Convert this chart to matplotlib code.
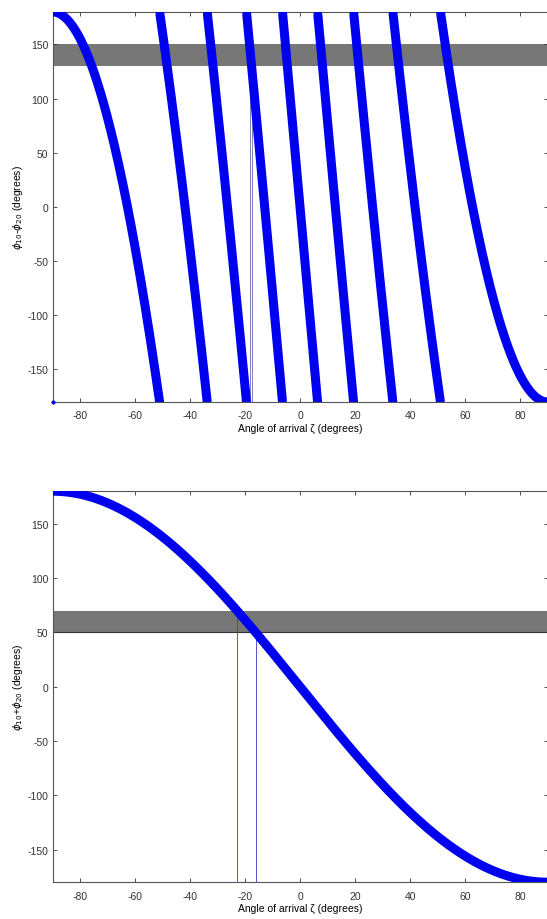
import numpy as np
import matplotlib
matplotlib.use("Agg")
import matplotlib.pyplot as plt

# --- PARAMETERS ---
phase_span_diff = 1620.0   # phi10 - phi20 = -1620 sin(zeta), wrapped to [-180, 180)
phase_span_sum  = 180.0    # phi10 + phi20 = -180 sin(zeta)
band_diff = (130, 150)     # measured phase-difference window
band_sum  = (50, 70)       # measured phase-sum window
xticks = [-80, -60, -40, -20, 0, 20, 40, 60, 80]
yticks = [-150, -100, -50, 0, 50, 100, 150]

zeta = np.linspace(-90, 90, 3001)
s = np.sin(np.radians(zeta))
diff = np.mod(-phase_span_diff * s + 180, 360) - 180
summ = -phase_span_sum * s

# crossings of the measured windows
# difference: branch where -1620 sin(zeta) lies in [180, 540)
cross_diff = [np.degrees(np.arcsin(-(v + 360) / phase_span_diff)) for v in band_diff]
cross_sum = [np.degrees(np.arcsin(-v / phase_span_sum)) for v in band_sum]

plt.rcParams['font.family'] = ['Liberation Sans', 'DejaVu Sans']
plt.rcParams['axes.unicode_minus'] = False
plt.rcParams['font.size'] = 7.5

fig = plt.figure(figsize=(5.47, 9.2), dpi=100)
ax1 = fig.add_axes([0.096, 0.562, 0.905, 0.424])
ax2 = fig.add_axes([0.096, 0.040, 0.905, 0.425])

blue = '#0000f0'
band_col = '#777777'


def style(ax):
    ax.set_xlim(-90, 90)
    ax.set_ylim(-180, 180)
    ax.set_xticks(xticks)
    ax.set_yticks(yticks)
    ax.tick_params(direction='in', length=3, width=0.6, colors='#333333',
                   top=True, right=True, labelsize=7.5)
    ax.tick_params(axis='x', pad=6)
    ax.tick_params(axis='y', pad=3)
    for sp in ax.spines.values():
        sp.set_color('#555555')
        sp.set_linewidth(0.8)
    ax.set_xlabel('Angle of arrival ζ (degrees)', fontsize=7.5, labelpad=2)


# --- PLOT: phase difference ---
ax1.axhspan(*band_diff, color=band_col, lw=0, zorder=1)
for xc, yc in zip(cross_diff, band_diff):
    ax1.plot([xc, xc], [-180, yc], color='#6a6ab0', lw=0.6, zorder=2)
# break the line at wraps
d = diff.copy()
jumps = np.where(np.abs(np.diff(d)) > 180)[0]
d[jumps + 1] = np.nan
ax1.plot(zeta, d, color=blue, lw=6.5, solid_capstyle='round', zorder=3)
ax1.plot([-90], [-180], 'o', color=blue, ms=2, zorder=3, clip_on=False)
ax1.set_ylabel(r'$\phi_{10}$-$\phi_{20}$ (degrees)', fontsize=7.5, labelpad=2)
style(ax1)

# --- PLOT: phase sum ---
ax2.axhspan(*band_sum, color=band_col, lw=0, zorder=1)
ax2.axhline(band_sum[0], color='#333333', lw=0.8, zorder=1)
for xc, yc in zip(cross_sum, band_sum):
    ax2.plot([xc, xc], [-180, yc], color='#3a3ac8', lw=0.6, zorder=2)
ax2.plot(zeta, summ, color=blue, lw=6.5, solid_capstyle='round', zorder=3)
ax2.set_ylabel(r'$\phi_{10}$+$\phi_{20}$ (degrees)', fontsize=7.5, labelpad=2)
style(ax2)

fig.savefig('out.png', dpi=100)
